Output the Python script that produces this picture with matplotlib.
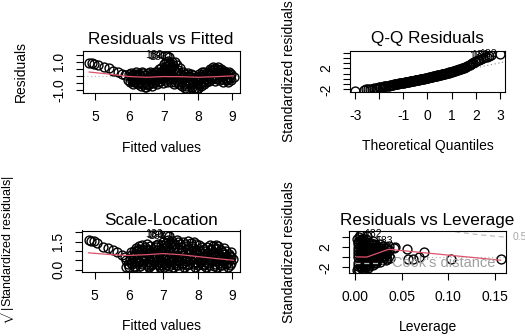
import matplotlib
matplotlib.use("Agg")
import matplotlib.pyplot as plt
import numpy as np

plt.rcParams["font.family"] = ["Liberation Sans", "DejaVu Sans"]
plt.rcParams["mathtext.fontset"] = "custom"
plt.rcParams["mathtext.rm"] = "Liberation Sans"

# --- Residuals vs Fitted ---
fitted = [
    4.82, 4.90, 4.97, 5.08, 5.24, 5.39, 5.52, 5.65, 5.78, 5.88,
    5.95, 5.97, 6.01, 6.03, 6.05, 6.09, 6.11, 6.13, 6.17, 6.19, 6.21,
    6.25, 6.27, 6.29, 6.33, 6.35, 6.37, 6.41, 6.43, 6.45, 6.49, 6.51, 6.53,
    6.57, 6.59, 6.61, 6.65, 6.67, 6.69, 6.73, 6.75, 6.77, 6.81, 6.83, 6.85,
    6.89, 6.91, 6.93, 6.97, 6.98, 6.99, 7.00, 7.03, 7.04, 7.06, 7.05,
    7.09, 7.10, 7.11, 7.12, 7.10, 7.15, 7.16, 7.17, 7.16,
    7.21, 7.22, 7.23, 7.24, 7.29, 7.30, 7.31, 7.32, 7.37, 7.38, 7.39,
    7.45, 7.46, 7.47, 7.53, 7.54, 7.55, 7.61, 7.62, 7.63, 7.69, 7.70, 7.71,
    7.77, 7.78, 7.79, 7.85, 7.86, 7.87, 7.93, 7.94, 7.95, 8.01, 8.02, 8.03,
    8.09, 8.10, 8.11, 8.17, 8.18, 8.19, 8.25, 8.26, 8.27, 8.33, 8.34, 8.35,
    8.41, 8.42, 8.43, 8.49, 8.50, 8.51, 8.57, 8.58, 8.59, 8.65, 8.66, 8.67,
    8.73, 8.74, 8.75, 8.81, 8.82, 8.89, 8.90, 8.91, 8.96, 8.98, 9.04,
    6.06, 6.07, 6.14, 6.15, 6.22, 6.23, 6.30, 6.31, 6.38, 6.39, 6.46, 6.47,
    6.54, 6.55, 6.62, 6.63, 6.70, 6.71, 6.78, 6.79, 6.86, 6.87, 6.94, 6.95,
    7.01, 7.02, 7.07, 7.08, 7.13, 7.14, 7.19, 7.20, 7.26, 7.27, 7.34, 7.35,
    7.42, 7.43, 7.50, 7.51, 7.58, 7.59, 7.66, 7.67, 7.74, 7.75, 7.82, 7.83,
    7.90, 7.91, 7.98, 7.99, 8.06, 8.07, 8.14, 8.15, 8.22, 8.23, 8.30, 8.31,
    8.38, 8.39, 8.46, 8.47, 8.54, 8.55, 8.62, 8.63, 8.70, 8.71, 8.78, 8.79,
    8.86, 8.87, 8.93, 8.94,
]
resid = [
    0.93, 0.88, 0.84, 0.77, 0.65, 0.53, 0.37, 0.25, 0.16, 0.09,
    -0.30, 0.10, -0.45, 0.20, -0.10, -0.55, -0.20, 0.15, -0.35, 0.25, -0.05,
    -0.60, -0.25, 0.10, -0.70, 0.28, -0.15, -0.45, 0.05, -0.80, -0.82, -0.30, 0.20,
    -0.55, 0.00, 0.30, -0.70, -0.20, 0.15, -0.45, 0.25, -0.05, -0.60, -0.15, 0.45,
    -0.35, 0.10, 0.55, -0.50, -0.05, 0.40, 0.85, -0.30, 0.20, 0.70, 1.47,
    -0.45, 0.05, 0.55, 1.05, 1.38, -0.20, 0.35, 0.90, 1.30,
    -0.40, 0.15, 0.65, 1.00, -0.55, -0.10, 0.45, 0.95, -0.30, 0.25, 0.80,
    -0.60, 0.00, 0.55, -0.75, -0.25, 0.30, -0.50, 0.10, -0.85, -0.90, -0.30, 0.20,
    -0.65, -0.05, 0.15, -1.00, -0.40, 0.05, -1.05, -0.60, -0.10, -0.85, -0.30, 0.15,
    -0.70, -0.20, 0.25, -0.55, 0.00, 0.30, -0.40, 0.20, -0.10, -0.35, 0.10, 0.45,
    -0.25, 0.25, 0.60, -0.35, 0.05, 0.55, -0.20, 0.30, 0.60, -0.30, 0.15, 0.50,
    -0.40, 0.00, 0.35, -0.25, 0.20, -0.45, -0.05, 0.25, -0.30, 0.10, -0.10,
    -0.35, 0.05, -0.40, 0.00, -0.50, 0.15, -0.45, 0.00, -0.60, 0.20, -0.20, -0.60,
    -0.65, -0.10, -0.40, 0.10, -0.50, 0.05, -0.30, 0.30, -0.45, 0.20, -0.20, 0.30,
    -0.15, 0.50, 0.40, 1.00, -0.10, 0.75, 0.10, 0.50, -0.25, 0.80, -0.40, 0.30,
    -0.45, 0.40, -0.40, 0.15, -0.60, -0.10, -0.70, 0.00, -0.50, 0.00, -0.80, -0.20,
    -0.85, -0.25, -0.95, -0.45, -0.55, 0.00, -0.40, 0.10, -0.25, 0.15, -0.20, 0.30,
    -0.10, 0.40, -0.15, 0.40, -0.10, 0.45, -0.05, 0.40, -0.20, 0.25, -0.15, 0.25,
    -0.30, 0.10, -0.15, 0.15,
]
rf_smooth_x = [4.82, 5.5, 6.0, 6.5, 7.0, 7.5, 8.0, 8.5, 9.04]
rf_smooth_y = [0.27, 0.10, -0.05, -0.10, -0.05, -0.06, -0.10, -0.06, 0.00]

# --- Q-Q Residuals ---
qq_theory = [
    -3.00, -2.65, -2.45, -2.30, -2.15, -2.02, -1.90, -1.80, -1.70, -1.60,
    -1.50, -1.42, -1.34, -1.26, -1.18, -1.10, -1.02, -0.95, -0.88, -0.81,
    -0.74, -0.67, -0.60, -0.53, -0.46, -0.39, -0.32, -0.25, -0.18, -0.11,
    -0.04, 0.03, 0.10, 0.17, 0.24, 0.31, 0.38, 0.45, 0.52, 0.59,
    0.66, 0.73, 0.80, 0.87, 0.94, 1.02, 1.10, 1.18, 1.26, 1.34,
    1.42, 1.50, 1.60, 1.70, 1.80, 1.90, 2.02, 2.15, 2.30, 2.45,
    2.65, 3.00,
    -2.55, -2.37, -2.22, -2.08, -1.96, -1.85, -1.75, -1.65, -1.55, -1.46,
    -1.38, -1.30, -1.22, -1.14, -1.06, -0.98, -0.91, -0.84, -0.77, -0.70,
    -0.63, -0.56, -0.49, -0.42, -0.35, -0.28, -0.21, -0.14, -0.07, 0.00,
    0.06, 0.13, 0.20, 0.27, 0.34, 0.41, 0.48, 0.55, 0.62, 0.69,
    0.76, 0.83, 0.90, 0.98, 1.06, 1.14, 1.22, 1.30, 1.38, 1.46,
    1.55, 1.65, 1.75, 1.85, 1.96, 2.08, 2.22, 2.37, 2.55,
]
qq_std = [
    -2.25, -2.10, -1.97, -1.85, -1.73, -1.63, -1.54, -1.46, -1.37, -1.28,
    -1.18, -1.11, -1.04, -0.97, -0.89, -0.82, -0.75, -0.68, -0.62, -0.56,
    -0.49, -0.43, -0.37, -0.31, -0.24, -0.18, -0.11, -0.05, 0.02, 0.08,
    0.16, 0.25, 0.33, 0.40, 0.48, 0.55, 0.63, 0.71, 0.78, 0.86,
    0.93, 1.01, 1.08, 1.18, 1.27, 1.38, 1.50, 1.61, 1.72, 1.84,
    1.97, 2.12, 2.33, 2.58, 2.82, 3.05, 3.35, 3.68, 4.00, 4.25,
    4.45, 4.65,
    -2.03, -1.92, -1.79, -1.68, -1.59, -1.50, -1.42, -1.33, -1.23, -1.15,
    -1.08, -1.00, -0.93, -0.86, -0.79, -0.71, -0.65, -0.59, -0.52, -0.46,
    -0.40, -0.34, -0.27, -0.21, -0.14, -0.08, -0.01, 0.05, 0.12, 0.21,
    0.29, 0.36, 0.44, 0.51, 0.59, 0.67, 0.74, 0.82, 0.89, 0.97,
    1.04, 1.12, 1.22, 1.32, 1.44, 1.55, 1.66, 1.78, 1.90, 2.04,
    2.22, 2.45, 2.70, 2.93, 3.20, 3.50, 3.85, 4.12, 4.36,
]
qq_line_intercept = 0.2
qq_line_slope = 0.95

# --- Scale-Location ---
sl_fitted = [
    4.82, 4.90, 4.97, 5.08, 5.24, 5.39, 5.52, 5.65, 5.78, 5.88, 5.90, 5.92, 5.96,
    6.01, 6.03, 6.05, 6.09, 6.11, 6.13, 6.17, 6.18, 6.19, 6.21,
    6.25, 6.26, 6.27, 6.29, 6.33, 6.34, 6.35, 6.37, 6.41, 6.42, 6.43, 6.45,
    6.49, 6.50, 6.51, 6.53, 6.57, 6.58, 6.59, 6.61, 6.65, 6.67, 6.69,
    6.73, 6.74, 6.75, 6.77, 6.81, 6.82, 6.83, 6.85, 6.89, 6.90, 6.91, 6.93,
    6.97, 6.98, 6.99, 7.00, 7.03, 7.04, 7.06, 7.05, 7.09, 7.10, 7.11, 7.10,
    7.15, 7.16, 7.17, 7.18, 7.16, 7.21, 7.22, 7.23, 7.24, 7.29, 7.30, 7.31, 7.32,
    7.37, 7.38, 7.39, 7.40, 7.45, 7.46, 7.47, 7.48, 7.53, 7.54, 7.55, 7.56,
    7.61, 7.62, 7.63, 7.64, 7.69, 7.70, 7.71, 7.72, 7.77, 7.78, 7.79, 7.80,
    7.85, 7.86, 7.87, 7.88, 7.93, 7.94, 7.95, 7.96, 8.01, 8.02, 8.03, 8.04,
    8.09, 8.10, 8.11, 8.12, 8.17, 8.18, 8.19, 8.25, 8.26, 8.27, 8.28,
    8.33, 8.34, 8.35, 8.36, 8.41, 8.42, 8.43, 8.44, 8.49, 8.50, 8.51, 8.52,
    8.57, 8.58, 8.59, 8.60, 8.65, 8.66, 8.67, 8.73, 8.74, 8.75, 8.76,
    8.81, 8.82, 8.83, 8.89, 8.90, 8.91, 8.96, 8.97, 8.98, 9.04,
    6.06, 6.06, 6.14, 6.14, 6.22, 6.22, 6.30, 6.30, 6.38, 6.38, 6.46, 6.46,
    6.54, 6.54, 6.62, 6.62, 6.70, 6.70, 6.78, 6.78, 6.86, 6.86, 6.94, 6.94,
    7.01, 7.01, 7.07, 7.07, 7.07, 7.13, 7.13, 7.19, 7.19, 7.26, 7.26,
    7.34, 7.34, 7.42, 7.42, 7.42, 7.50, 7.50, 7.58, 7.58, 7.66, 7.66,
    7.74, 7.74, 7.82, 7.82, 7.90, 7.90, 7.98, 7.98, 8.06, 8.06, 8.14, 8.14,
    8.22, 8.22, 8.30, 8.30, 8.38, 8.38, 8.46, 8.46, 8.54, 8.54, 8.62, 8.62,
    8.70, 8.70, 8.78, 8.78, 8.86, 8.86, 8.93, 8.93,
]
sl_root = [
    1.61, 1.56, 1.52, 1.42, 1.24, 1.16, 1.03, 0.92, 0.79, 0.67, 0.50, 0.12, 0.32,
    0.15, 0.50, 0.80, 0.30, 0.65, 1.00, 0.12, 0.45, 0.85, 1.15,
    0.35, 0.70, 1.05, 1.25, 0.20, 0.55, 0.95, 1.30, 0.10, 0.45, 0.80, 1.20,
    0.30, 0.65, 1.05, 1.35, 0.15, 0.55, 0.90, 1.25, 0.25, 0.70, 1.10,
    0.10, 0.45, 0.85, 1.20, 0.30, 0.65, 1.05, 1.40, 0.15, 0.50, 0.95, 1.30,
    0.25, 0.75, 1.15, 1.50, 0.12, 0.55, 1.00, 1.92, 0.35, 0.80, 1.25, 1.86,
    0.20, 0.60, 1.05, 1.45, 1.82, 0.30, 0.75, 1.20, 1.55, 0.15, 0.55, 0.95, 1.40,
    0.25, 0.70, 1.15, 1.60, 0.10, 0.45, 0.90, 1.35, 0.30, 0.65, 1.05, 1.50,
    0.15, 0.55, 0.95, 1.40, 0.25, 0.70, 1.10, 1.55, 0.10, 0.50, 0.90, 1.45,
    0.30, 0.75, 1.15, 1.50, 0.15, 0.55, 1.00, 1.40, 0.25, 0.65, 1.05, 1.30,
    0.10, 0.50, 0.85, 1.20, 0.30, 0.70, 1.10, 0.15, 0.50, 0.90, 1.20,
    0.25, 0.65, 1.05, 1.30, 0.10, 0.45, 0.85, 1.25, 0.30, 0.70, 1.10, 1.30,
    0.15, 0.55, 0.95, 1.25, 0.25, 0.65, 1.05, 0.10, 0.45, 0.85, 1.15,
    0.30, 0.70, 1.00, 0.15, 0.50, 0.85, 0.35, 0.65, 0.95, 0.55,
    0.35, 0.95, 0.20, 0.80, 0.55, 1.00, 0.40, 1.10, 0.30, 0.75, 0.55, 1.10,
    0.20, 0.85, 0.40, 1.05, 0.30, 0.90, 0.60, 1.30, 0.25, 0.85, 0.40, 1.10,
    0.35, 1.30, 0.25, 0.75, 1.45, 0.50, 1.60, 0.40, 0.95, 0.50, 1.35,
    0.35, 1.20, 0.25, 0.70, 1.50, 0.55, 1.20, 0.35, 0.80, 0.45, 1.25,
    0.30, 0.90, 0.60, 1.25, 0.40, 1.05, 0.35, 0.80, 0.40, 1.00, 0.25, 0.70,
    0.40, 1.00, 0.35, 0.80, 0.50, 1.10, 0.20, 0.95, 0.45, 1.15, 0.35, 0.80,
    0.25, 0.95, 0.50, 0.85, 0.35, 0.70, 0.25, 0.75,
]
sl_smooth_x = [4.82, 5.5, 6.0, 6.5, 7.0, 7.5, 8.0, 8.5, 9.04]
sl_smooth_y = [0.90, 0.80, 0.76, 0.80, 0.86, 0.80, 0.70, 0.60, 0.50]

# --- Residuals vs Leverage ---
leverage = [
    0.0020, 0.0030, 0.0030, 0.0030, 0.0030, 0.0030, 0.0025,
    0.0040, 0.0050, 0.0050, 0.0050, 0.0050, 0.0050, 0.0050, 0.0045,
    0.0070, 0.0070, 0.0070, 0.0070, 0.0070, 0.0070, 0.0065,
    0.0090, 0.0090, 0.0090, 0.0090, 0.0090, 0.0100,
    0.0110, 0.0110, 0.0110, 0.0110, 0.0110,
    0.0130, 0.0130, 0.0130, 0.0130, 0.0130,
    0.0150, 0.0150, 0.0150, 0.0150,
    0.0170, 0.0170, 0.0170, 0.0170,
    0.0190, 0.0190, 0.0190, 0.0190,
    0.0210, 0.0210, 0.0210,
    0.0230, 0.0230, 0.0230, 0.0230,
    0.0250, 0.0250, 0.0250,
    0.0270, 0.0270, 0.0270, 0.0270,
    0.0300, 0.0300, 0.0300,
    0.0330, 0.0330, 0.0330,
    0.0360, 0.0360, 0.0360, 0.0380, 0.0420, 0.0430,
    0.0560, 0.0570, 0.0620, 0.0690, 0.0740, 0.1030, 0.1560,
    0.0035, 0.0035, 0.0035, 0.0035,
    0.0060, 0.0060, 0.0060, 0.0060, 0.0060,
    0.0080, 0.0080, 0.0080, 0.0080, 0.0080,
    0.0100, 0.0100, 0.0100, 0.0100,
    0.0120, 0.0120, 0.0120, 0.0120, 0.0120,
    0.0140, 0.0140, 0.0140, 0.0140, 0.0140,
    0.0160, 0.0160, 0.0160, 0.0160,
    0.0180, 0.0180, 0.0180,
    0.0200, 0.0200, 0.0200, 0.0200,
    0.0220, 0.0220, 0.0220,
    0.0240, 0.0240, 0.0240,
    0.0280, 0.0280, 0.0280,
    0.0320, 0.0320,
    0.0345, 0.0345, 0.0345,
]
lev_std = [
    -2.6, -2.3, -1.2, 0.0, 1.2, 2.5, 3.5,
    -2.7, -1.8, -0.6, 0.6, 1.8, 3.2, 4.3, 3.9,
    -2.4, -1.0, 0.3, 1.5, 2.8, 4.5, -2.0,
    -1.5, -0.3, 0.9, 2.2, 3.6, -2.6,
    -2.0, -0.8, 0.5, 1.6, 2.9,
    -1.3, 0.0, 1.1, 2.4, 4.1,
    -1.8, -0.5, 0.7, 1.9,
    -1.0, 0.3, 1.4, 2.7,
    -1.6, -0.2, 1.0, 3.2,
    -0.8, 0.5, 1.8,
    -1.2, 0.1, 1.3, 2.4,
    -0.5, 0.8, 2.0,
    -0.9, 0.4, 1.5, 2.6,
    -0.3, 0.9, 2.1,
    -0.6, 0.6, 1.7,
    0.2, 1.4, 2.2, -0.2, 1.9, 1.95,
    1.6, -0.3, -0.3, 0.0, 1.0, -0.35, -0.35,
    -1.7, 0.6, 1.8, 3.0,
    -1.4, 0.0, 1.0, 2.2, 3.6,
    -1.9, -0.5, 0.8, 2.0, 3.3,
    -1.0, 0.2, 1.3, 2.5,
    -1.6, -0.3, 0.9, 2.0, 3.5,
    -2.2, -0.9, 0.4, 1.5, 2.9,
    -1.3, 0.0, 1.1, 2.3,
    -0.6, 0.6, 1.9,
    -1.1, 0.2, 1.3, 2.5,
    -0.3, 0.9, 2.0,
    -0.8, 0.4, 1.6,
    -0.1, 1.1, 1.9,
    0.2, 1.2,
    -0.3, 0.8, 1.9,
]
lev_smooth_x = [0.002, 0.0128, 0.036, 0.156]
lev_smooth_y = [0.05, 0.02, 1.55, -0.60]
cook_lev = [0.098, 0.110, 0.125, 0.140, 0.163]
cook_half = [5.26, 4.93, 4.58, 4.29, 3.92]
lev_label_x = [0.0070, 0.0190]
lev_label_y = [4.5, 3.2]
lev_label_ids = ["182", "183"]

top_ids = ["182", "180", "183"]

W, H = 525, 336
RED = "#DF536B"
GRAY = "#BEBEBE"


def px_rect(left, top, right, bottom):
    return [left / W, 1 - bottom / H, (right - left) / W, (bottom - top) / H]


def fig_text(fig, x, y, s, **kw):
    fig.text(x / W, 1 - y / H, s, ha="center", va="center", **kw)


def make_panel(fig, rect, xlim, ylim, xticks, xlabels, yticks, ylabels):
    ax = fig.add_axes(px_rect(*rect))
    ax.set_xlim(xlim)
    ax.set_ylim(ylim)
    ax.set_xticks(xticks, xlabels, fontsize=10)
    ax.set_yticks(yticks, ylabels, fontsize=10)
    ax.tick_params(direction="out", length=5, width=0.8, pad=7)
    ax.tick_params(axis="y", labelrotation=90)
    for lbl in ax.get_yticklabels():
        lbl.set_verticalalignment("center")
    for sp in ax.spines.values():
        sp.set_linewidth(0.8)
    return ax


def draw_points(ax, x, y):
    ax.plot(x, y, "o", mfc="none", mec="black", ms=6.4, mew=1.0)


def label_top(ax, x, y, key, side):
    x = np.asarray(x)
    y = np.asarray(y)
    order = np.argsort(-np.abs(key))[:3]
    for name, i in zip(top_ids, order):
        off = -2 if side == "left" else 2
        ax.annotate(name, (x[i], y[i]), xytext=(off, 0), textcoords="offset points",
                    ha="right" if side == "left" else "left", va="center",
                    fontsize=7.5, annotation_clip=False)


fig = plt.figure(figsize=(W / 100, H / 100), dpi=100)

# Residuals vs Fitted
ax1 = make_panel(fig, (82.7, 50.5, 240, 93), (4.63, 9.23), (-1.21, 1.79),
                 [5, 6, 7, 8, 9], ["5", "6", "7", "8", "9"],
                 [-1.0, -0.5, 0.0, 0.5, 1.0, 1.5], ["-1.0", "", "", "", "1.0", ""])
ax1.axhline(0, color=GRAY, lw=0.9, ls=(0, (1, 2)))
draw_points(ax1, fitted, resid)
ax1.plot(rf_smooth_x, rf_smooth_y, color=RED, lw=0.9)
label_top(ax1, fitted, resid, np.asarray(resid), "left")
fig_text(fig, 161, 39, "Residuals vs Fitted", fontsize=12.3)
fig_text(fig, 161, 147.5, "Fitted values", fontsize=10)
fig_text(fig, 21, 72, "Residuals", fontsize=10, rotation=90)

# Q-Q Residuals
ax2 = make_panel(fig, (350, 51, 505, 92), (-3.21, 3.21), (-2.51, 5.3),
                 [-3, -2, -1, 0, 1, 2, 3], ["-3", "", "-1", "0", "1", "2", "3"],
                 [-2, -1, 0, 1, 2, 3, 4, 5], ["-2", "", "", "", "2", "", "", ""])
ax2.axline((0, qq_line_intercept), slope=qq_line_slope, color="#9a9a9a", lw=0.9,
           ls=(0, (1, 2)))
draw_points(ax2, qq_theory, qq_std)
label_top(ax2, qq_theory, qq_std, np.asarray(qq_std), "left")
fig_text(fig, 427.5, 38, "Q-Q Residuals", fontsize=12.3)
fig_text(fig, 427.5, 146, "Theoretical Quantiles", fontsize=10)
fig_text(fig, 289, 71, "Standardized residuals", fontsize=10, rotation=90)

# Scale-Location
ax3 = make_panel(fig, (82, 230.5, 240, 272), (4.63, 9.23), (-0.13, 2.1),
                 [5, 6, 7, 8, 9], ["5", "6", "7", "8", "9"],
                 [0.0, 0.5, 1.0, 1.5, 2.0], ["0.0", "", "", "1.5", ""])
draw_points(ax3, sl_fitted, sl_root)
ax3.plot(sl_smooth_x, sl_smooth_y, color=RED, lw=0.9)
label_top(ax3, sl_fitted, sl_root, np.asarray(sl_root), "left")
fig_text(fig, 161, 220.5, "Scale-Location", fontsize=12.3)
fig_text(fig, 161, 325.5, "Fitted values", fontsize=10)
fig_text(fig, 6, 249, r"$\sqrt{|\mathrm{Standardized\ residuals}|}$", fontsize=9,
         rotation=90)

# Residuals vs Leverage
ax4 = make_panel(fig, (349, 231, 506, 273), (-0.0064, 0.1617), (-3.12, 5.15),
                 [0.0, 0.05, 0.10, 0.15], ["0.00", "0.05", "0.10", "0.15"],
                 [-2, 0, 2, 4], ["-2", "", "2", ""])
ax4.axhline(0, color=GRAY, lw=0.9, ls=(0, (1, 2)))
ax4.axvline(0, color=GRAY, lw=0.9, ls=(0, (1, 2)))
draw_points(ax4, leverage, lev_std)
ax4.plot(lev_smooth_x, lev_smooth_y, color=RED, lw=0.9)
ax4.plot(cook_lev, cook_half, color=GRAY, lw=0.9, ls=(0, (4, 3)))
ax4.text(1.04, (cook_half[-1] + 3.12) / (5.15 + 3.12), "0.5", transform=ax4.transAxes,
         color="#a8a8a8", fontsize=7.5, ha="left", va="center", clip_on=False)
ax4.plot([0.0000, 0.0300], [-1.15, -1.15], color=GRAY, lw=0.9, ls=(0, (4, 3)))
ax4.text(0.040, -1.15, "Cook's distance", color="#a0a0a0", fontsize=10.5,
         ha="left", va="center")
for name, lx, ly in zip(lev_label_ids, lev_label_x, lev_label_y):
    ax4.annotate(name, (lx, ly), xytext=(2, 0), textcoords="offset points",
                 ha="left", va="center", fontsize=7.5, annotation_clip=False)
fig_text(fig, 427.5, 220.5, "Residuals vs Leverage", fontsize=12.3)
fig_text(fig, 427.5, 327, "Leverage", fontsize=10)
fig_text(fig, 289, 252, "Standardized residuals", fontsize=10, rotation=90)

fig.savefig("out.png", dpi=100)
